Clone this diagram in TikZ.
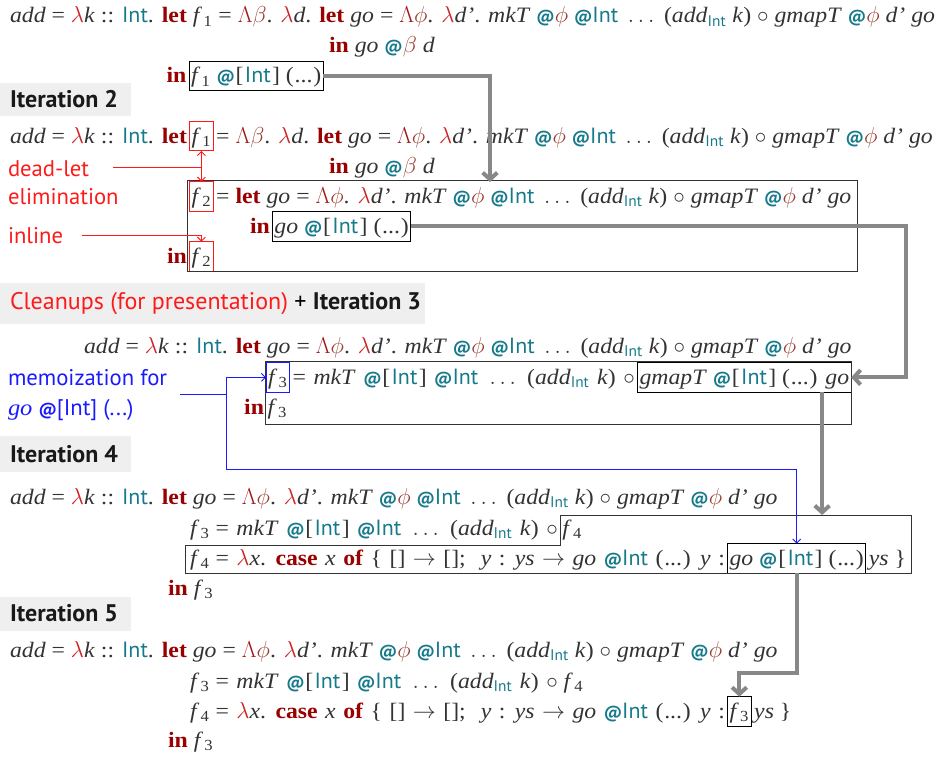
\documentclass[tikz,border=0pt]{standalone}
\usepackage{fontspec}
\usepackage{graphicx}
\setmainfont{Liberation Serif}[FakeStretch=1.08]
\setsansfont{PT Sans}
\usetikzlibrary{arrows.meta,calc}
\definecolor{tgray}{HTML}{333333}
\definecolor{kwc}{HTML}{990000}
\definecolor{lamc}{HTML}{CC2222}
\definecolor{Lamc}{HTML}{A01818}
\definecolor{tvc}{HTML}{9A3B30}
\definecolor{tealc}{HTML}{167A8B}
\definecolor{labred}{HTML}{FF1A1A}
\definecolor{labblue}{HTML}{1A1AFF}
\definecolor{hdrbg}{HTML}{EFEFEF}
\definecolor{arrgray}{HTML}{888888}
\newcommand{\fs}{\fontsize{16.5pt}{19pt}\selectfont}
\newcommand{\hfs}{\fontsize{18pt}{20pt}\selectfont}
\newcommand{\lfs}{\fontsize{17pt}{20pt}\selectfont}
\newcommand{\smallat}{\fontsize{13pt}{13pt}\selectfont\sffamily\bfseries @}
\newcommand{\vv}[1]{\textit{#1}}
\newcommand{\kw}[1]{\textcolor{kwc}{\textbf{#1}}}
\newcommand{\lam}{\textcolor{lamc}{$\lambda$}}
\newcommand{\Lam}{\textcolor{Lamc}{$\Lambda$}}
\newcommand{\tvb}{\textcolor{tvc}{$\beta$}}
\newcommand{\tvp}{\textcolor{tvc}{$\phi$}}
\newcommand{\Int}{\textcolor{tealc}{\sffamily Int}}
\newcommand{\atsym}{\textcolor{tealc}{\smallat}}
\newcommand{\atInt}{\atsym\kern0.5pt[\kern1pt\Int\kern1pt]}
\newcommand{\dotsargs}{(\kern0.6pt...\kern0.6pt)}
\newcommand{\fv}[1]{\textit{f}\kern1pt\textsubscript{#1}}
\newcommand{\eldots}{\ \,$\ldots$\,\ }
\newcommand{\addI}{\textit{add}\textsubscript{\textcolor{tealc}{\sffamily Int}}}
\newcommand{\addline}{\vv{add} = \lam\vv{k} :: \Int. \kw{let} \vv{go} = \Lam\tvp. \lam\vv{d’}. \vv{mkT} \atsym\tvp{} \atsym\Int\eldots(\addI{} \vv{k}) $\circ$ \vv{gmapT} \atsym\tvp{} \vv{d’} \vv{go}}
\newcommand{\goline}{= \Lam\tvb. \lam\vv{d}. \kw{let} \vv{go} = \Lam\tvp. \lam\vv{d’}. \vv{mkT} \atsym\tvp{} \atsym\Int\eldots(\addI{} \vv{k}) $\circ$ \vv{gmapT} \atsym\tvp{} \vv{d’} \vv{go}}
\newcommand{\fthree}{{\spaceskip=5.6pt\relax = \vv{mkT} \atInt{} \atsym\Int\eldots(\addI{} \vv{k}) $\circ$}}
\newcommand{\ffour}{{\spaceskip=5.6pt\relax = \lam\vv{x}. \kw{case} \vv{x} \kw{of} \{ [] $\rightarrow$ []; \ \vv{y} : \vv{ys} $\rightarrow$ \vv{go} \atsym\Int{} \dotsargs{} \vv{y} :}}
\tikzset{
  txt/.style={inner sep=0pt, outer sep=0pt, anchor=base west, text=tgray, font=\fs},
  bx/.style={txt, draw=black, inner xsep=1.5pt, text height=16pt, text depth=6pt, line width=0.75pt},
  rbx/.style={bx, draw=labred},
  bbx/.style={bx, draw=labblue},
  lab/.style={inner sep=0pt, outer sep=0pt, anchor=base west, font=\lfs\sffamily},
  hdr/.style={lab, font=\hfs\sffamily\bfseries, text=black!90},
  bigbox/.style={draw=black!80, line width=0.75pt},
  garrow/.style={draw=arrgray, line width=3pt, -{Straight Barb[length=5pt,width=11pt]}},
  rline/.style={draw=labred, line width=0.7pt},
  rarr/.style={rline, -{Straight Barb[length=3pt,width=6pt]}},
  bline/.style={draw=labblue, line width=0.7pt},
  barr/.style={bline, -{Straight Barb[length=3pt,width=6pt]}},
}
\begin{document}
\begin{tikzpicture}[x=0.75pt,y=-0.75pt]
\useasboundingbox (0,0) rectangle (941,756);
% ---------- initial
\node[txt] (a1) at (10,23) {\vv{add} = \lam\vv{k} :: \Int. \kw{let} \fv{1} \goline};
\node[txt] (a2) at (329,53) {\kw{in} \vv{go} \atsym\tvb{} \vv{d}};
\node[bx] (a3b) at (189,83) {\fv{1} \atInt{} \dotsargs};
\node[txt, anchor=base east] (a3) at (a3b.base west) {\kw{in}\kern2pt};
% ---------- iteration 2
\fill[hdrbg] (0,83) rectangle (131,116);
\node[hdr] (h2) at (10,108) {Iteration 2};
\node[txt] (b1) at (10,143) {\vv{add} = \lam\vv{k} :: \Int. \kw{let}\kern2pt};
\node[rbx] (b1f) at (b1.base east) {\fv{1}};
\node[txt] (b1r) at ($(b1f.base east)+(3,0)$) {\goline};
\node[txt] (b2) at (329,173) {\kw{in} \vv{go} \atsym\tvb{} \vv{d}};
\node[rbx] (b3f) at ($(b1f.base west)+(0,60)$) {\fv{2}};
\node[txt] (b3r) at ($(b3f.base east)+(3,0)$) {= \kw{let} \vv{go} = \Lam\tvp. \lam\vv{d’}. \vv{mkT} \atsym\tvp{} \atsym\Int\eldots(\addI{} \vv{k}) $\circ$ \vv{gmapT} \atsym\tvp{} \vv{d’} \vv{go}};
\node[txt] (b4) at (250,233) {\kw{in}\kern2pt};
\node[bx] (b4b) at (b4.base east) {\vv{go} \atInt{} \dotsargs};
\node[rbx] (b5f) at ($(b1f.base west)+(0,120)$) {\fv{2}};
\node[txt, anchor=base east] (b5) at (b5f.base west) {\kw{in}\kern2pt};
\draw[bigbox] ($(b3f.north west)+(-2,-1)$) rectangle ($(b3r.east |- b5f.south)+(6,0)$);
\node[lab, text=labred] (l1) at (8,176) {dead-let};
\node[lab, text=labred] (l2) at (8,204) {elimination};
\node[lab, text=labred] (l3) at (8,243) {inline};
\draw[rline, {Straight Barb[length=3pt,width=6pt]}-{Straight Barb[length=3pt,width=6pt]}] (b1f.south) -- (b3f.north);
\coordinate (dl0) at (113,167);
\draw[rline] (dl0) -- (dl0 -| b1f.south);
\coordinate (il0) at (82,235);
\draw[rarr] (il0) -| (b5f.north);
\coordinate (t2) at (490,182);
\draw[garrow] (a3b.east) -| (t2);
% ---------- iteration 3
\fill[hdrbg] (0,283) rectangle (425,324);
\node[lab, font=\hfs\sffamily] (h3) at (10,309) {\textcolor{labred}{Cleanups (for presentation)} \textcolor{black}{+} \textcolor{black!90}{\bfseries Iteration 3}};
\node[txt] (c1) at (84,353) {\addline};
\node[bbx] (c2f) at (266,384) {\fv{3}};
\node[txt] (c2r) at ($(c2f.base east)+(3,0)$) {\fthree\kern2pt};
\node[bx] (c2g) at (c2r.base east) {\vv{gmapT} \atInt{} \dotsargs{} \vv{go}};
\node[txt, anchor=base east] (c3) at ($(c2f.base west)+(-2,30)$) {\kw{in}};
\node[txt] (c3f) at ($(c2f.base west)+(1.5,30)$) {\fv{3}};
\coordinate (c3bot) at (0,424);
\draw[bigbox] ($(c2f.north west)+(-1,-1)$) rectangle (c2g.east |- c3bot);
\node[lab, text=labblue] (m1) at (8,385) {memoization for};
\node[lab, text=labblue] (m2) at (8,415) {{\rmfamily\itshape go} {\smallat}[Int] (...)};
\draw[garrow] (b4b.east) -| ($(c2g.east)+(55,0)$) -- (c2g.east);
% ---------- iteration 4
\fill[hdrbg] (0,436) rectangle (131,472);
\node[hdr] (h4) at (10,462) {Iteration 4};
\node[txt] (d1) at (10,504) {\addline};
\node[txt] (d2) at (190,535) {\fv{3} \fthree\kern2pt};
\node[txt, inner xsep=1.5pt, text height=15pt, text depth=7.5pt] (d2f) at (d2.base east) {\fv{4}};
\node[txt] (d3) at (190,565) {\fv{4} \ffour\kern2pt};
\node[bx] (d3g) at (d3.base east) {\vv{go} \atInt{} \dotsargs};
\node[txt] (d3r) at ($(d3g.base east)+(3,0)$) {\vv{ys} \}};
\node[txt] (d4) at (168,595) {\kw{in} \fv{3}};
\coordinate (L4r) at ($(d3r.east |- d3g.south)+(6,0)$);
\coordinate (L4l) at ($(d3.west |- d2f.south)+(-5,0)$);
\draw[bigbox] (d2f.north west) -| (L4r) -| (L4l) -- (d2f.south west) -- cycle;
\coordinate (g3s) at ($(c2g.south east)+(-29,0)$);
\draw[garrow] (g3s) -- (g3s |- d2f.north);
\coordinate (mj) at (226,394);
\coordinate (m0) at (180,394);
\coordinate (mb) at (226,469);
\draw[bline] (m0) -- (mj);
\draw[barr] (mj) |- (c2f.west);
\draw[barr] (mj) -- (mb) -| (d3g.north);
% ---------- iteration 5
\fill[hdrbg] (0,597) rectangle (131,631);
\node[hdr] (h5) at (10,621) {Iteration 5};
\node[txt] (e1) at (10,657) {\addline};
\node[txt] (e2) at (190,688) {\fv{3} \fthree{} \fv{4}};
\node[txt] (e3) at (190,718) {\fv{4} \ffour\kern2pt};
\node[bx] (e3f) at (e3.base east) {\fv{3}};
\node[txt] (e3r) at ($(e3f.base east)+(3,0)$) {\vv{ys} \}};
\node[txt] (e4) at (168,747) {\kw{in} \fv{3}};
\coordinate (t5) at ($(e3f.north)+(0,-24)$);
\draw[garrow] (d3g.south) |- (t5) -- (e3f.north);
\end{tikzpicture}
\end{document}
